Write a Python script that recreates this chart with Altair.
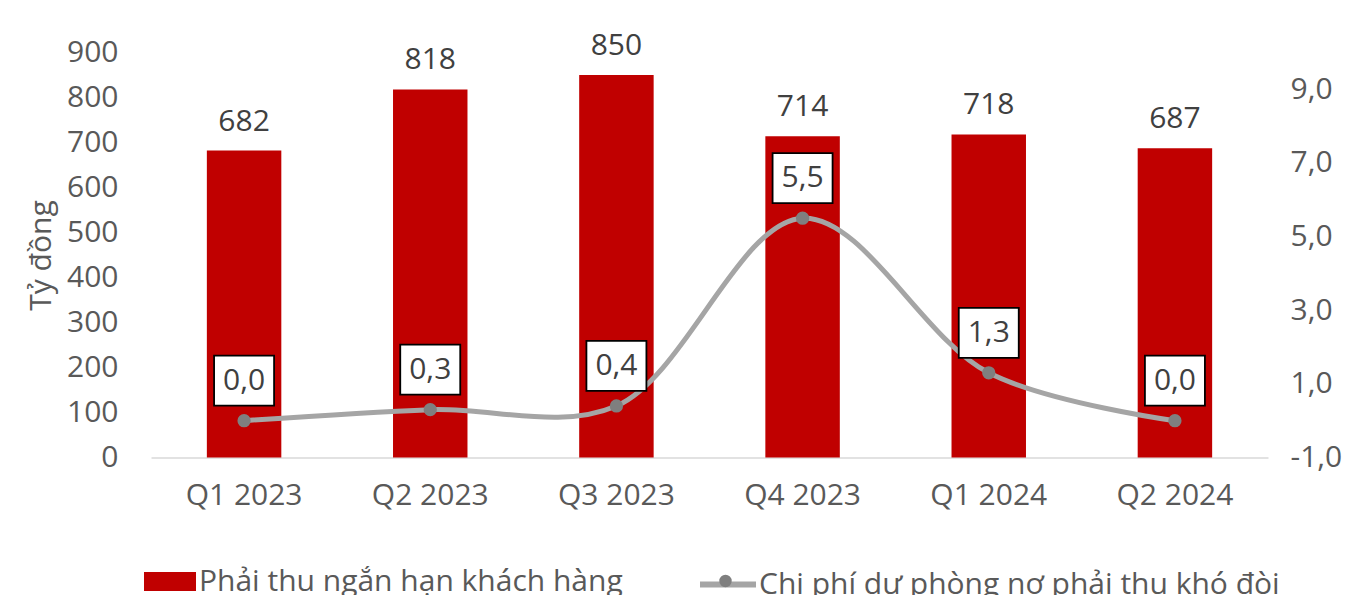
import altair as alt
import pandas as pd

quarters = ["Q1 2023", "Q2 2023", "Q3 2023", "Q4 2023", "Q1 2024", "Q2 2024"]
receivables = [682, 818, 850, 714, 718, 687]
provisions = [0.0, 0.3, 0.4, 5.5, 1.3, 0.0]
left_ticks = [0, 100, 200, 300, 400, 500, 600, 700, 800, 900]
right_ticks = [-1, 1, 3, 5, 7, 9]
bar_name = "Phải thu ngắn hạn khách hàng"
line_name = "Chi phí dự phòng nợ phải thu khó đòi"
marker_key = "marker"
y_title = "Tỷ đồng"

FONT = "Open Sans"
AX = "#595959"
FS = 30

df = pd.DataFrame({
    "q": quarters,
    "r": receivables,
    "p": provisions,
    "s1": bar_name,
    "s2": line_name,
    "s3": marker_key,
})
df["p_label"] = [f"{v:.1f}".replace(".", ",") for v in provisions]

x = alt.X(
    "q:N", sort=quarters,
    scale=alt.Scale(paddingInner=0.6, paddingOuter=0.3),
    axis=alt.Axis(title=None, labelAngle=0, labelFontSize=FS, labelColor=AX,
                  labelFont=FONT, labelPadding=23, ticks=False,
                  domainColor="#D9D9D9", domainWidth=1.5),
)

y_left = alt.Y(
    "r:Q",
    scale=alt.Scale(domain=[0, 900], nice=False),
    axis=alt.Axis(values=left_ticks, title=y_title, titleFontSize=FS, titleColor=AX,
                  titleFont=FONT, titleFontWeight="normal", titlePadding=10,
                  labelFontSize=FS, labelColor=AX, labelFont=FONT, labelPadding=33,
                  domain=False, ticks=False, grid=False),
)

y_right = alt.Y(
    "p:Q",
    scale=alt.Scale(domain=[-1, 10], nice=False, zero=False),
    axis=alt.Axis(orient="right", values=right_ticks, title=None,
                  labelExpr="replace(replace(format(datum.value, '.1f'), '.', ','), '\u2212', '-')",
                  labelFontSize=FS, labelColor=AX, labelFont=FONT, labelPadding=22,
                  domain=False, ticks=False, grid=False),
)

bars = alt.Chart(df).mark_bar().encode(
    x=x, y=y_left,
    color=alt.Color("s1:N", scale=alt.Scale(domain=[bar_name], range=["#C00000"]),
                    legend=alt.Legend(orient="none", legendX=-7, legendY=503, direction="horizontal",
                                      title=None, padding=0, labelLimit=1000,
                                      symbolType="M-1,-0.365L1,-0.365L1,0.365L-1,0.365Z",
                                      symbolSize=2704, symbolStrokeWidth=0,
                                      labelFont=FONT, labelFontSize=FS, labelColor=AX, labelOffset=3)),
)
bar_text = alt.Chart(df).mark_text(font=FONT, fontSize=FS, color="#404040",
                                   baseline="alphabetic", dy=-20).encode(
    x=x, y=y_left, text=alt.Text("r:Q"))

line = alt.Chart(df).mark_line(interpolate="catmull-rom", strokeWidth=5).encode(
    x=x, y=y_right,
    stroke=alt.Stroke("s2:N", scale=alt.Scale(domain=[line_name], range=["#A5A5A5"]),
                      legend=alt.Legend(orient="none", legendX=546, legendY=501, direction="horizontal",
                                        title=None, padding=0, symbolType="stroke", labelLimit=1000,
                                        symbolSize=3136, symbolStrokeWidth=6,
                                        labelFont=FONT, labelFontSize=FS, labelColor=AX, labelOffset=0)),
)
points = alt.Chart(df).mark_circle(size=177, opacity=1).encode(
    x=x, y=y_right,
    fill=alt.Fill("s3:N", scale=alt.Scale(domain=[marker_key], range=["#7F7F7F"]),
                  legend=alt.Legend(orient="none", legendX=568, legendY=522, direction="horizontal",
                                    title=None, padding=0, symbolType="circle", symbolSize=154,
                                    symbolStrokeWidth=0, labelExpr="''", labelFontSize=1)),
)
boxes = alt.Chart(df).mark_point(
    shape="M-0.6,-0.5L0.6,-0.5L0.6,0.5L-0.6,0.5Z", size=10000, filled=True,
    fill="white", stroke="black", strokeWidth=1.8, opacity=1, yOffset=-40,
).encode(x=x, y=y_right)
labels = alt.Chart(df).mark_text(font=FONT, fontSize=FS, color="#404040",
                                 baseline="middle", dy=-40).encode(
    x=x, y=y_right, text="p_label:N")

left = alt.layer(bars, bar_text)
right = alt.layer(line, points, boxes, labels)

chart = alt.layer(left, right).resolve_scale(y="independent").properties(
    width=1117, height=405,
    autosize=alt.AutoSizeParams(type="none"),
    padding={"left": 143, "top": 44.5, "right": 81, "bottom": 150},
).configure(font=FONT).configure_view(stroke="transparent", strokeWidth=0)

chart.save("out.html", embed_options={"renderer": "svg", "actions": False})
